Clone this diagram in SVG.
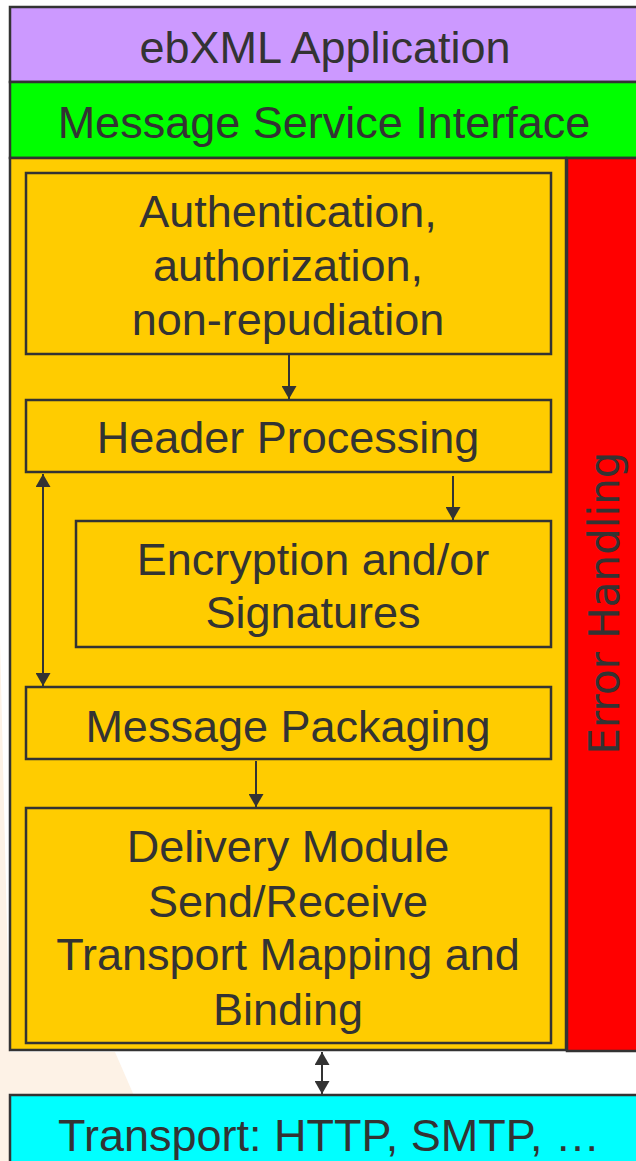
<svg xmlns="http://www.w3.org/2000/svg" width="636" height="1161" viewBox="0 0 636 1161">
<style>
.box{stroke:#333;stroke-width:2.5}
.t{font-family:"Liberation Sans",Arial,sans-serif;font-size:45px;fill:#333;text-anchor:middle}
.c{stroke:#333;stroke-width:2;fill:none}
</style>
<defs>
<marker id="ah" viewBox="0 0 13 15" refX="13" refY="7.5" markerWidth="13" markerHeight="15" markerUnits="userSpaceOnUse" orient="auto-start-reverse">
<path d="M0,0 L13,7.5 L0,15 Z" fill="#333"/>
</marker>
</defs>
<rect width="636" height="1161" fill="#fff"/>
<path d="M0,640 L0,1161 L50,1161 L135,1098 L115,1052 L10,1052 Z" fill="#fdf2e6"/>
<g id="app"><rect class="box" x="10" y="7" width="630" height="75" fill="#cc99ff"/><text class="t" x="325" y="63">ebXML Application</text></g>
<g id="msi"><rect class="box" x="10" y="82" width="630" height="76" fill="#00ff00"/><text class="t" x="324" y="138">Message Service Interface</text></g>
<g id="container"><rect class="box" x="10" y="158" width="556" height="892" fill="#ffcc00"/></g>
<g id="error"><rect class="box" x="567" y="158" width="73" height="893" fill="#ff0000"/><text transform="translate(619,603) rotate(-90)" style="font-family:'DejaVu Sans',Verdana,sans-serif;font-size:42px;fill:#333;text-anchor:middle">Error Handling</text></g>
<g id="auth"><rect class="box" x="26" y="173" width="525" height="181" fill="#ffcc00"/><text class="t" x="288" y="227">Authentication,</text><text class="t" x="288" y="281">authorization,</text><text class="t" x="288" y="335">non-repudiation</text></g>
<g id="header"><rect class="box" x="26" y="400" width="525" height="72" fill="#ffcc00"/><text class="t" x="288" y="453">Header Processing</text></g>
<g id="enc"><rect class="box" x="76" y="521" width="475" height="126" fill="#ffcc00"/><text class="t" x="313" y="575">Encryption and/or</text><text class="t" x="313" y="628">Signatures</text></g>
<g id="pack"><rect class="box" x="26" y="687" width="525" height="72" fill="#ffcc00"/><text class="t" x="288" y="742">Message Packaging</text></g>
<g id="delivery"><rect class="box" x="26" y="808" width="525" height="235" fill="#ffcc00"/><text class="t" x="288" y="862">Delivery Module</text><text class="t" x="288" y="917">Send/Receive</text><text class="t" x="288" y="970">Transport Mapping and</text><text class="t" x="288" y="1025">Binding</text></g>
<g id="transport"><rect class="box" x="10" y="1095" width="630" height="70" fill="#00ffff"/><text class="t" x="329" y="1151">Transport: HTTP, SMTP, …</text></g>
<g id="connectors">
<line class="c" x1="289" y1="355" x2="289" y2="399" marker-end="url(#ah)"/>
<line class="c" x1="453" y1="476" x2="453" y2="520" marker-end="url(#ah)"/>
<line class="c" x1="43" y1="474" x2="43" y2="686" marker-start="url(#ah)" marker-end="url(#ah)"/>
<line class="c" x1="256" y1="761" x2="256" y2="807" marker-end="url(#ah)"/>
<line class="c" x1="322" y1="1052" x2="322" y2="1094" marker-start="url(#ah)" marker-end="url(#ah)"/>
</g>
</svg>
